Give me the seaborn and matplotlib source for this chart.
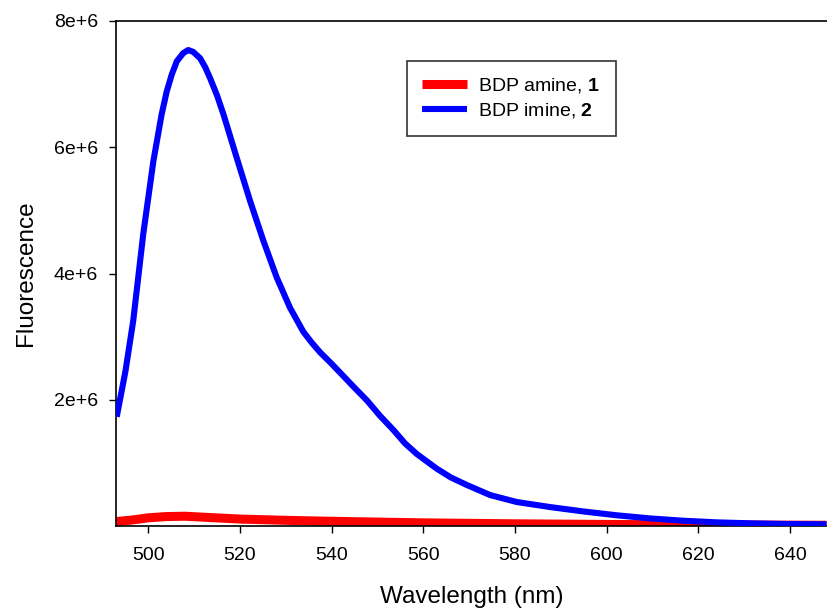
import numpy as np
import pandas as pd
import seaborn as sns
import matplotlib.pyplot as plt

# Emission spectra (wavelength in nm, fluorescence in counts)
imine_nm = [493.1, 495.0, 496.7, 498.9, 501.1, 502.9, 504.0, 505.1, 506.2, 507.6,
            508.7, 509.8, 511.3, 512.4, 513.5, 515.0, 516.4, 519.3, 522.2, 525.1,
            528.0, 530.9, 533.8, 535.6, 537.5, 540.0, 542.5, 545.0, 547.7, 550.5,
            553.5, 556.0, 558.6, 562.9, 566.0, 569.5, 574.6, 580.4, 587.7, 595.0,
            602.2, 609.5, 616.7, 624.0, 631.3, 638.6, 648.0]
imine_fl = [1.73e6, 2.45e6, 3.25e6, 4.63e6, 5.78e6, 6.52e6, 6.88e6, 7.15e6, 7.36e6, 7.49e6,
            7.54e6, 7.51e6, 7.41e6, 7.27e6, 7.09e6, 6.82e6, 6.52e6, 5.83e6, 5.15e6, 4.52e6,
            3.94e6, 3.46e6, 3.08e6, 2.91e6, 2.75e6, 2.57e6, 2.38e6, 2.19e6, 1.99e6, 1.75e6,
            1.52e6, 1.31e6, 1.14e6, 0.91e6, 0.77e6, 0.65e6, 0.49e6, 0.38e6, 0.30e6, 0.23e6,
            0.17e6, 0.12e6, 0.084e6, 0.058e6, 0.043e6, 0.032e6, 0.027e6]

amine_nm = [493, 497, 500, 504, 508, 512, 520, 530, 540, 560, 580, 600, 620, 648]
amine_fl = [0.07e6, 0.10e6, 0.13e6, 0.15e6, 0.155e6, 0.14e6, 0.11e6, 0.09e6, 0.075e6,
            0.05e6, 0.035e6, 0.025e6, 0.018e6, 0.012e6]

x_ticks = [500, 520, 540, 560, 580, 600, 620, 640]
y_ticks = [2e6, 4e6, 6e6, 8e6]
y_ticklabels = ["2e+6", "4e+6", "6e+6", "8e+6"]

sns.set_style("ticks")
plt.rcParams["font.family"] = ["Liberation Sans", "DejaVu Sans"]
plt.rcParams["mathtext.fontset"] = "custom"
plt.rcParams["mathtext.rm"] = "Liberation Sans"
plt.rcParams["mathtext.bf"] = "Liberation Sans:bold"
plt.rcParams["text.color"] = "black"
plt.rcParams["axes.labelcolor"] = "black"

amine = pd.DataFrame({"nm": amine_nm, "fl": amine_fl})
imine = pd.DataFrame({"nm": imine_nm, "fl": imine_fl})

fig = plt.figure(figsize=(8.27, 6.12), dpi=100)
ax = fig.add_axes([0.1403, 0.1405, 0.8597, 0.8252])

sns.lineplot(data=amine, x="nm", y="fl", color="#ff0000", linewidth=6.5,
             label=r"BDP amine, $\mathbf{1}$", ax=ax, zorder=2,
             solid_capstyle="butt", solid_joinstyle="round")
sns.lineplot(data=imine, x="nm", y="fl", color="#0000ff", linewidth=4.4,
             label=r"BDP imine, $\mathbf{2}$", ax=ax, zorder=3,
             solid_capstyle="butt", solid_joinstyle="round")

ax.set_xlim(492.95, 648.1)
ax.set_ylim(0, 8e6)
ax.set_xticks(x_ticks)
ax.set_xticklabels([str(v) for v in x_ticks])
ax.set_yticks(y_ticks)
ax.set_yticklabels(y_ticklabels)
ax.tick_params(direction="out", length=5, width=1, labelsize=14, colors="black")
ax.tick_params(axis="x", pad=10)
ax.tick_params(axis="y", pad=8)

ax.set_xlabel("Wavelength (nm)", fontsize=17.5, labelpad=16)
ax.set_ylabel("Fluorescence", fontsize=17.5, labelpad=12)

for s in ["left", "top", "bottom"]:
    ax.spines[s].set_color("black")
    ax.spines[s].set_linewidth(1.2)
ax.spines["right"].set_visible(False)

leg = ax.legend(loc="upper left", bbox_to_anchor=(0.409, 0.921), fontsize=14,
                frameon=True, fancybox=False, edgecolor="black", handlelength=2.3,
                handletextpad=0.57, borderpad=0.8, labelspacing=0.3, borderaxespad=0)
leg.get_frame().set_linewidth(1.2)

fig.savefig("out.png", dpi=100)
